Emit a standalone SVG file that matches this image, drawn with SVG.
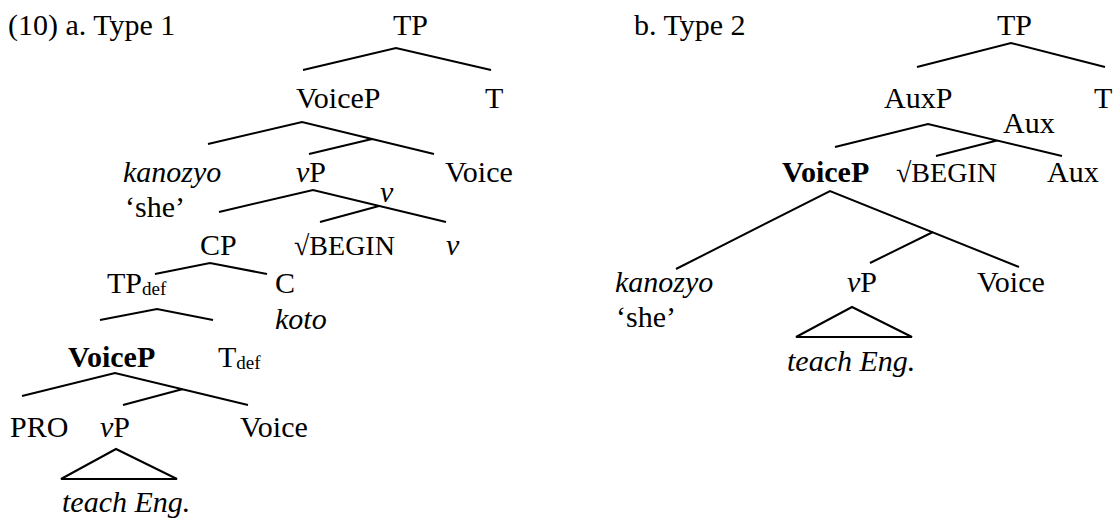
<svg xmlns="http://www.w3.org/2000/svg" width="1114" height="520" viewBox="0 0 1114 520">
<style>
text{font-family:"Liberation Serif","Times New Roman",serif;font-size:30px;fill:#000}
.i{font-style:italic}
.b{font-weight:bold}
.r{font-size:28px}
.s{font-size:19px}
.e path{fill:none;stroke:#000;stroke-width:2;stroke-linejoin:miter}
</style>
<rect width="1114" height="520" fill="#fff"/>
<g id="titles">
<text x="8" y="35">(10) a. Type 1</text>
<text x="634" y="35">b. Type 2</text>
</g>
<g class="e" id="connectors">
<path d="M303,70 L396,48 L491,70"/>
<path d="M208,144 L302,122 L434,154 M372,139 L309,154"/>
<path d="M219,212 L313,190 L446,222 M379,206 L320,222"/>
<path d="M155,274 L210,263 L267,274"/>
<path d="M100,320 L157,309 L213,320"/>
<path d="M22,396 L115,373 L248,405 M183,389 L123,405"/>
<path d="M116,449 L61,479 L177,479 Z"/>
<path d="M917,67 L1011,43 L1105,67"/>
<path d="M835,147 L928,124 L1062,156 M997,140.5 L936,156"/>
<path d="M676,269 L830,191 L1019,267 M933,232 L870,263"/>
<path d="M852,307 L796,337 L912,337 Z"/>
</g>
<g id="a-TP"><text x="393" y="35">TP</text></g>
<g id="a-VoiceP"><text x="296" y="108">VoiceP</text></g>
<g id="a-T"><text x="485" y="108">T</text></g>
<g id="a-kanozyo"><text class="i" x="123" y="182">kanozyo</text><text x="125" y="217">‘she’</text></g>
<g id="a-vP"><text x="296" y="182"><tspan class="i">v</tspan>P</text></g>
<g id="a-Voice"><text x="445" y="182">Voice</text></g>
<g id="a-v-bar"><text class="i" x="380" y="202">v</text></g>
<g id="a-CP"><text x="200" y="255">CP</text></g>
<g id="a-BEGIN"><text class="r" x="294" y="255">√BEGIN</text></g>
<g id="a-v"><text class="i" x="446" y="255">v</text></g>
<g id="a-TPdef"><text x="107" y="293">TP<tspan class="s" dy="2">def</tspan></text></g>
<g id="a-C"><text x="275" y="293">C</text><text class="i" x="275" y="329">koto</text></g>
<g id="a-VoiceP2"><text class="b" x="68" y="367">VoiceP</text></g>
<g id="a-Tdef"><text x="218" y="367">T<tspan class="s" dy="2">def</tspan></text></g>
<g id="a-PRO"><text x="10" y="437">PRO</text></g>
<g id="a-vP2"><text x="100" y="437"><tspan class="i">v</tspan>P</text><text class="i" x="62" y="512">teach Eng.</text></g>
<g id="a-Voice2"><text x="240" y="437">Voice</text></g>
<g id="b-TP"><text x="997" y="35">TP</text></g>
<g id="b-AuxP"><text x="884" y="108">AuxP</text></g>
<g id="b-T"><text x="1094" y="108">T</text></g>
<g id="b-Aux-bar"><text x="1003" y="133">Aux</text></g>
<g id="b-VoiceP"><text class="b" x="782" y="182">VoiceP</text></g>
<g id="b-BEGIN"><text class="r" x="896" y="182">√BEGIN</text></g>
<g id="b-Aux"><text x="1047" y="182">Aux</text></g>
<g id="b-kanozyo"><text class="i" x="615" y="292">kanozyo</text><text x="616" y="327">‘she’</text></g>
<g id="b-vP"><text x="847" y="292"><tspan class="i">v</tspan>P</text><text class="i" x="787" y="371">teach Eng.</text></g>
<g id="b-Voice"><text x="977" y="292">Voice</text></g>
</svg>
